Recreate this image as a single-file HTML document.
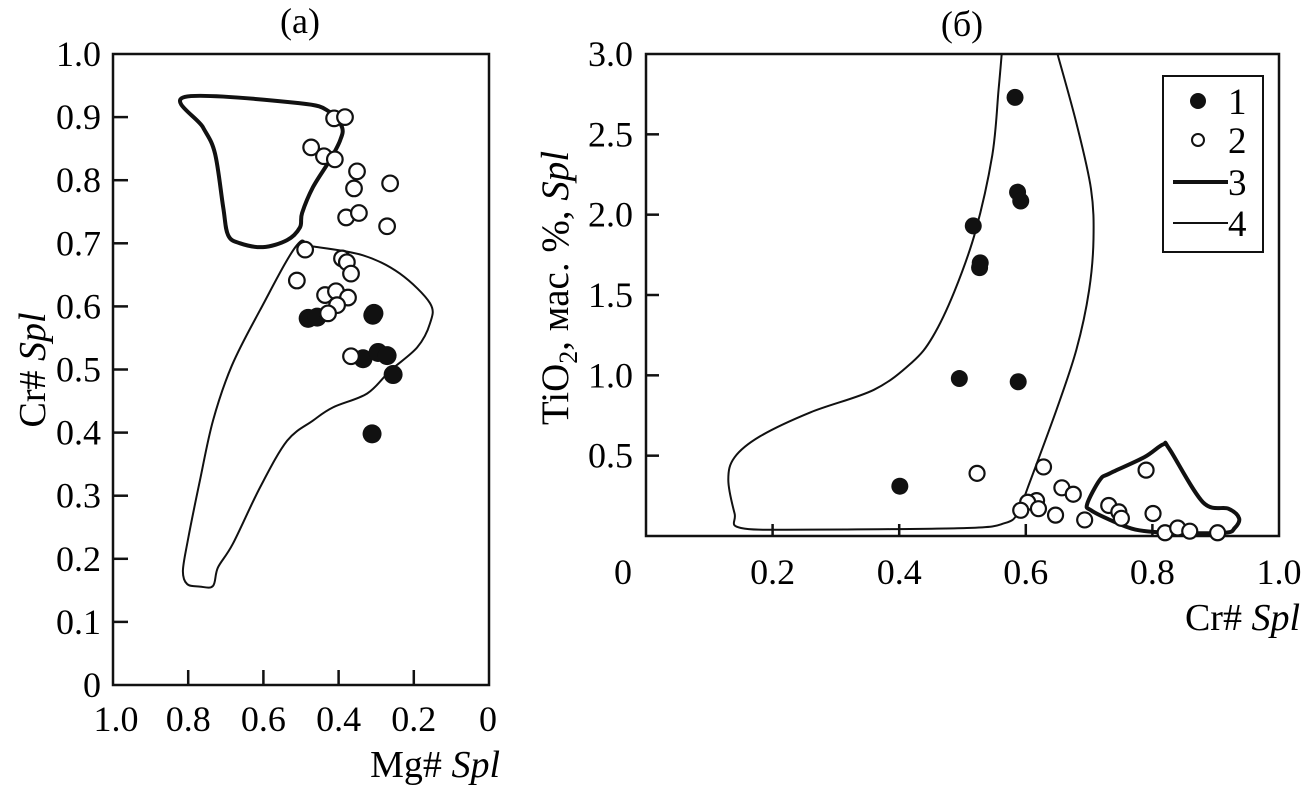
<!DOCTYPE html>
<html><head><meta charset="utf-8">
<style>
html,body{margin:0;padding:0;background:#fff;}
svg{display:block;font-family:"Liberation Serif",serif;}
</style></head>
<body>
<svg id="chart" width="1304" height="791" viewBox="0 0 1304 791" xmlns="http://www.w3.org/2000/svg">
<g id="pa"></g>
<g id="pb"></g>
</svg>
<script>
// Panel (a): Mg# vs Cr#
const aTicksX = [1.0, 0.8, 0.6, 0.4, 0.2, 0];
const aTickLabelsX = ["1.0","0.8","0.6","0.4","0.2","0"];
const aTicksY = [0,0.1,0.2,0.3,0.4,0.5,0.6,0.7,0.8,0.9,1.0];
const aTickLabelsY = ["0","0.1","0.2","0.3","0.4","0.5","0.6","0.7","0.8","0.9","1.0"];
const aOpenMg = [0.412,0.383,0.473,0.439,0.410,0.351,0.359,0.263,0.380,0.346,0.271,0.489,0.391,0.378,0.367,0.511,0.436,0.407,0.375,0.404,0.428,0.367];
const aOpenCr = [0.898,0.900,0.852,0.838,0.833,0.814,0.787,0.795,0.741,0.748,0.727,0.690,0.676,0.670,0.652,0.641,0.618,0.624,0.614,0.602,0.589,0.521];
const aFillMg = [0.481,0.457,0.309,0.306,0.335,0.295,0.271,0.255,0.311];
const aFillCr = [0.581,0.583,0.586,0.589,0.517,0.527,0.522,0.492,0.398];
const aThickMg = [0.809,0.503,0.423,0.391,0.396,0.423,0.468,0.497,0.503,0.537,0.601,0.662,0.694,0.707,0.729,0.761];
const aThickCr = [0.932,0.922,0.908,0.884,0.863,0.832,0.789,0.748,0.725,0.705,0.694,0.700,0.713,0.757,0.843,0.884];
const aThinMg = [0.511,0.468,0.335,0.237,0.157,0.157,0.191,0.263,0.324,0.415,0.468,0.537,0.609,0.681,0.721,0.734,0.769,0.803,0.814,0.801,0.769,0.734,0.684,0.609];
const aThinCr = [0.697,0.695,0.681,0.652,0.605,0.573,0.535,0.498,0.462,0.440,0.419,0.387,0.313,0.224,0.186,0.157,0.156,0.160,0.181,0.229,0.324,0.419,0.506,0.594];

// Panel (b): Cr# vs TiO2
const bTicksX = [0,0.2,0.4,0.6,0.8,1.0];
const bTickLabelsX = ["0","0.2","0.4","0.6","0.8","1.0"];
const bTicksY = [0.5,1.0,1.5,2.0,2.5,3.0];
const bTickLabelsY = ["0.5","1.0","1.5","2.0","2.5","3.0"];
const bFillCr = [0.583,0.587,0.592,0.517,0.528,0.527,0.495,0.588,0.401];
const bFillTi = [2.73,2.14,2.085,1.93,1.70,1.67,0.98,0.96,0.31];
const bOpenCr = [0.523,0.628,0.657,0.675,0.617,0.603,0.620,0.592,0.647,0.693,0.731,0.747,0.751,0.790,0.801,0.82,0.84,0.859,0.903];
const bOpenTi = [0.39,0.43,0.30,0.26,0.22,0.21,0.17,0.16,0.13,0.10,0.19,0.15,0.11,0.41,0.14,0.02,0.05,0.03,0.02];
const bThinCr = [0.562,0.557,0.547,0.520,0.487,0.453,0.420,0.360,0.260,0.180,0.140,0.130,0.140,0.150,0.260,0.507,0.567,0.587,0.603,0.647,0.680,0.700,0.707,0.703,0.680,0.650];
const bThinTi = [3.0,2.78,2.37,1.89,1.52,1.24,1.08,0.91,0.77,0.62,0.49,0.35,0.14,0.05,0.04,0.05,0.08,0.14,0.30,0.77,1.16,1.53,1.85,2.16,2.57,3.0];
const bThickCr = [0.697,0.717,0.733,0.787,0.817,0.827,0.88,0.92,0.937,0.93,0.913,0.827,0.773,0.733,0.703];
const bThickTi = [0.20,0.35,0.39,0.49,0.57,0.54,0.21,0.17,0.11,0.05,0.02,0.02,0.04,0.10,0.16];
const legendLabels = ["1","2","3","4"];

const NS = "http://www.w3.org/2000/svg";
function mk(parent, tag, attrs, text){
  const e = document.createElementNS(NS, tag);
  for (const k in attrs) e.setAttribute(k, attrs[k]);
  if (text !== undefined) e.textContent = text;
  parent.appendChild(e);
  return e;
}
const axL=113, axR=489, ayT=54, ayB=685;
const ax = v => axL + (1 - v) * (axR - axL);
const ay = v => ayB - v * (ayB - ayT);
const bxL=646, bxR=1279, byT=54, byB=536;
const bx = v => bxL + v * (bxR - bxL);
const by = v => byB - v / 3 * (byB - byT);

function smoothPath(xs, ys, fx, fy, closed){
  const p = xs.map((v,i)=>[fx(v), fy(ys[i])]);
  const n = p.length;
  let d = "M" + p[0][0].toFixed(1) + "," + p[0][1].toFixed(1);
  const last = closed ? n : n - 1;
  for (let i = 0; i < last; i++){
    const p0 = p[(i-1+n)%n], p1 = p[i], p2 = p[(i+1)%n], p3 = p[(i+2)%n];
    const q0 = (!closed && i===0) ? p1 : p0;
    const q3 = (!closed && i===n-2) ? p2 : p3;
    const c1 = [p1[0]+(p2[0]-q0[0])/6, p1[1]+(p2[1]-q0[1])/6];
    const c2 = [p2[0]-(q3[0]-p1[0])/6, p2[1]-(q3[1]-p1[1])/6];
    d += " C"+c1[0].toFixed(1)+","+c1[1].toFixed(1)+" "+c2[0].toFixed(1)+","+c2[1].toFixed(1)+" "+p2[0].toFixed(1)+","+p2[1].toFixed(1);
  }
  if (closed) d += " Z";
  return d;
}

// ---------- Panel a ----------
const pa = document.getElementById("pa");
let t = mk(pa,"text",{x:300,y:33,"font-size":36,"text-anchor":"middle"},"(a)");


let r = mk(pa,"rect",{x:axL,y:ayT,width:axR-axL,height:ayB-ayT,fill:"none",stroke:"#111","stroke-width":2.5});


aTicksY.forEach((v,i)=>{
  if (v>0 && v<1){
    const l = mk(pa,"line",{x1:axL,x2:axL+15,y1:ay(v),y2:ay(v),stroke:"#111","stroke-width":2.5});
    
    
  }
  const tx = mk(pa,"text",{x:101,y:ay(v)+12,"font-size":36,"text-anchor":"end"},aTickLabelsY[i]);
  
  
});
aTicksX.forEach((v,i)=>{
  if (v>0 && v<1){
    const l = mk(pa,"line",{x1:ax(v),x2:ax(v),y1:ayB,y2:ayB-15,stroke:"#111","stroke-width":2.5});
    
    
  }
  const tx = mk(pa,"text",{x:ax(v)+(v===1?3:(v===0?-1:0)),y:731,"font-size":36,"text-anchor":"middle"},aTickLabelsX[i]);
  
  
});
t = mk(pa,"text",{x:500,y:777,"font-size":38,"text-anchor":"end"});
t.innerHTML = 'Mg# <tspan font-style="italic">Spl</tspan>';


t = mk(pa,"text",{x:0,y:0,"font-size":38,"text-anchor":"middle",transform:"translate(45,370) rotate(-90)"});
t.innerHTML = 'Cr# <tspan font-style="italic">Spl</tspan>';


let pth = mk(pa,"path",{d:smoothPath(aThickMg,aThickCr,ax,ay,true),fill:"none",stroke:"#111","stroke-width":4,"stroke-linejoin":"round"});


pth = mk(pa,"path",{d:smoothPath(aThinMg,aThinCr,ax,ay,true),fill:"none",stroke:"#111","stroke-width":2});


aFillMg.forEach((v,i)=>{
  const c = mk(pa,"circle",{cx:ax(v),cy:ay(aFillCr[i]),r:9.5,fill:"#111"});
  
  
});
aOpenMg.forEach((v,i)=>{
  const c = mk(pa,"circle",{cx:ax(v),cy:ay(aOpenCr[i]),r:7.8,fill:"#fff",stroke:"#111","stroke-width":2.2});
  
  
});

// ---------- Panel b ----------
const pb = document.getElementById("pb");
t = mk(pb,"text",{x:962,y:36,"font-size":36,"text-anchor":"middle"},"(б)");


r = mk(pb,"rect",{x:bxL,y:byT,width:bxR-bxL,height:byB-byT,fill:"none",stroke:"#111","stroke-width":2.5});


bTicksY.forEach((v,i)=>{
  if (v<3){
    const l = mk(pb,"line",{x1:bxL,x2:bxL+13,y1:by(v),y2:by(v),stroke:"#111","stroke-width":2.5});
    
    
  }
  const tx = mk(pb,"text",{x:633,y:by(v)+12,"font-size":36,"text-anchor":"end"},bTickLabelsY[i]);
  
  
});
bTicksX.forEach((v,i)=>{
  if (v>0 && v<1){
    const l = mk(pb,"line",{x1:bx(v),x2:bx(v),y1:byB,y2:byB-12,stroke:"#111","stroke-width":2.5});
    
    
  }
  const tx = mk(pb,"text",{x:v===0?623:bx(v),y:584,"font-size":36,"text-anchor":"middle"},bTickLabelsX[i]);
  
  
});
t = mk(pb,"text",{x:1300,y:630,"font-size":38,"text-anchor":"end"});
t.innerHTML = 'Cr# <tspan font-style="italic">Spl</tspan>';


t = mk(pb,"text",{x:0,y:0,"font-size":39,"text-anchor":"middle",transform:"translate(568,288) rotate(-90)"});
t.innerHTML = 'TiO<tspan font-size="26" dy="9">2</tspan><tspan dy="-9">, мас. %, </tspan><tspan font-style="italic">Spl</tspan>';


pth = mk(pb,"path",{d:smoothPath(bThinCr,bThinTi,bx,by,false),fill:"none",stroke:"#111","stroke-width":2});


pth = mk(pb,"path",{d:smoothPath(bThickCr,bThickTi,bx,by,true),fill:"none",stroke:"#111","stroke-width":4,"stroke-linejoin":"round"});


bFillCr.forEach((v,i)=>{
  const c = mk(pb,"circle",{cx:bx(v),cy:by(bFillTi[i]),r:8.5,fill:"#111"});
  
  
});
bOpenCr.forEach((v,i)=>{
  const c = mk(pb,"circle",{cx:bx(v),cy:by(bOpenTi[i]),r:7.5,fill:"#fff",stroke:"#111","stroke-width":2.2});
  
  
});

// legend
const lg = mk(pb,"g",{});


r = mk(lg,"rect",{x:1163,y:76,width:100,height:176,fill:"#fff",stroke:"#111","stroke-width":2});


const rows = [101,140,182,223];
let e = mk(lg,"circle",{cx:1198,cy:rows[0],r:8,fill:"#111"});


e = mk(lg,"circle",{cx:1198,cy:rows[1],r:6,fill:"#fff",stroke:"#111","stroke-width":2});


e = mk(lg,"line",{x1:1173,x2:1228,y1:rows[2],y2:rows[2],stroke:"#111","stroke-width":4});


e = mk(lg,"line",{x1:1173,x2:1228,y1:rows[3],y2:rows[3],stroke:"#111","stroke-width":2});


legendLabels.forEach((s,i)=>{
  const tx = mk(lg,"text",{x:1228,y:rows[i]+13,"font-size":37},s);
  
  
});
</script>
</body></html>
